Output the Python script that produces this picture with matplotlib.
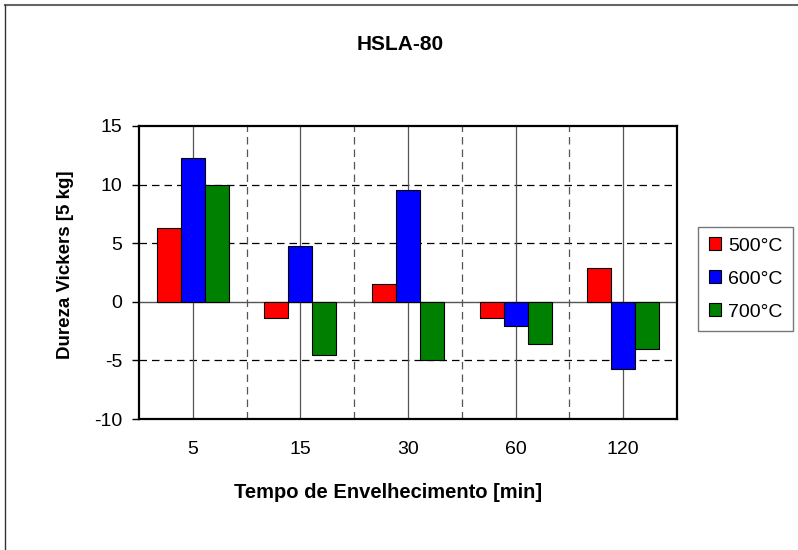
import matplotlib
matplotlib.use("Agg")
import matplotlib.pyplot as plt
import numpy as np
from matplotlib.lines import Line2D

categories = ["5", "15", "30", "60", "120"]
series_names = ["500°C", "600°C", "700°C"]
v500 = [6.3, -1.4, 1.5, -1.4, 2.9]
v600 = [12.3, 4.8, 9.5, -2.1, -5.7]
v700 = [10.0, -4.5, -5.0, -3.6, -4.0]
colors = ["#FF0000", "#0000FF", "#008000"]
yticks = [-10, -5, 0, 5, 10, 15]

plt.rcParams['font.family'] = ['Liberation Sans', 'DejaVu Sans']

fig = plt.figure(figsize=(7.98, 5.5), dpi=100)
ax = fig.add_axes([139/798, 1-419/550, (677-139)/798, (419-126)/550])

x = np.arange(len(categories))
w = 0.223
for i, (vals, c, name) in enumerate(zip([v500, v600, v700], colors, series_names)):
    ax.bar(x + (i-1)*w, vals, width=w, color=c, edgecolor='black', linewidth=0.8,
           label=name, zorder=3)

ax.set_xlim(-0.5, len(categories)-0.5)
ax.set_ylim(-10, 15)
ax.set_yticks(yticks)
ax.set_yticklabels([str(t) for t in yticks], fontsize=14)
ax.set_xticks(x)
ax.set_xticklabels(categories, fontsize=14)
ax.tick_params(axis='x', length=0, pad=16)
ax.tick_params(axis='y', length=5, width=1, pad=7, direction='out')

# gridlines
for yv in [-5, 5, 10]:
    ax.axhline(yv, color='black', linestyle=(0, (6, 4)), linewidth=0.9, zorder=1)
ax.axhline(0, color='#555555', linewidth=1.0, zorder=2)
for xv in x:
    ax.axvline(xv, color='#555555', linewidth=0.9, zorder=1)
for xv in x[:-1] + 0.5:
    ax.axvline(xv, color='#555555', linestyle=(0, (6, 4)), linewidth=0.9, zorder=1)

for s in ax.spines.values():
    s.set_linewidth(1.6)
    s.set_color('black')

ax.set_ylabel("Dureza Vickers [5 kg]", fontsize=13.5, fontweight='bold')
ax.yaxis.set_label_coords(-(139-65)/(677-139), 0.526)
ax.set_xlabel("Tempo de Envelhecimento [min]", fontsize=14.5, fontweight='bold')
ax.xaxis.set_label_coords((388-139)/(677-139), -(492-419)/293)
ax.xaxis.label.set_va('center')
ax.yaxis.label.set_va('center')
fig.text(400/798, 1-45/550, "HSLA-80", ha='center', va='center', fontsize=15, fontweight='bold')

leg = fig.legend(loc='center', bbox_to_anchor=(745.5/798, 1-279/550), fontsize=14,
                 frameon=True, fancybox=False, edgecolor='#555555', handlelength=0.65,
                 handleheight=0.65, handletextpad=0.35, labelspacing=0.8, borderpad=0.55)
leg.get_frame().set_linewidth(1.0)

# outer chart frame (top and left visible)
fig.add_artist(Line2D([5/798, 1], [1-5/550, 1-5/550], color='#666666', linewidth=1.5, transform=fig.transFigure))
fig.add_artist(Line2D([5/798, 5/798], [0, 1-5/550], color='#333333', linewidth=1.0, transform=fig.transFigure))

fig.savefig("out.png", dpi=100, facecolor='white')
